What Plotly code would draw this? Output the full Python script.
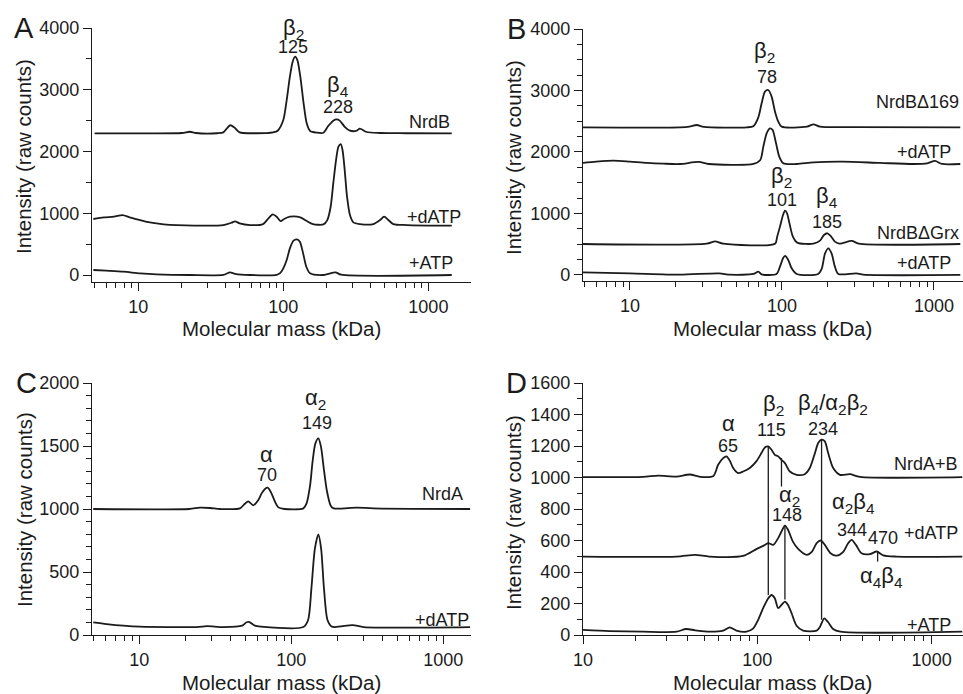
import math
import plotly.graph_objects as go

# ---------------- Data ----------------
# Panel A (NrdB)
A_NrdB_mass = [5, 10, 20, 22.7, 25, 35, 38.6, 41, 43, 46, 50, 65, 85, 91.5, 100, 105.5, 111, 116, 120.5, 125, 131, 138, 145, 153, 170, 189, 204, 221, 233, 245, 265, 288, 321, 337, 375, 465, 700, 1450]
A_NrdB_int = [2295, 2295, 2300, 2320, 2300, 2296, 2310, 2380, 2425, 2390, 2310, 2296, 2310, 2337, 2509, 2833, 3211, 3454, 3535, 3481, 3211, 2780, 2456, 2332, 2305, 2305, 2413, 2500, 2520, 2500, 2400, 2337, 2337, 2370, 2316, 2300, 2296, 2294]
A_dATP_mass = [4.9, 5.8, 6.8, 7.8, 8.7, 10.3, 12, 15, 18.3, 38.6, 44, 46.5, 50, 59, 72.5, 79, 84.5, 90, 95.5, 102, 111, 131, 145, 160, 189, 201, 212, 221, 231, 240, 249, 256, 265, 275, 288, 304, 337, 418, 465, 495, 530, 573, 710, 1450]
A_dATP_int = [907, 934, 944, 971, 934, 890, 852, 820, 809, 809, 847, 869, 836, 809, 825, 917, 982, 944, 874, 912, 944, 934, 874, 825, 820, 890, 1106, 1484, 1862, 2078, 2121, 2024, 1700, 1268, 971, 852, 825, 825, 890, 944, 890, 825, 809, 800]
A_ATP_mass = [4.9, 6, 7.9, 10.3, 13.4, 22.7, 38.6, 42.9, 46.5, 59, 90, 95, 100, 105.5, 111, 117.6, 124, 130, 137, 144, 153, 189, 229, 250, 1450]
A_ATP_int = [81, 70, 54, 27, 11, 0, 3, 43, 20, 0, 4, 30, 108, 243, 432, 556, 578, 540, 351, 135, 27, 0, 43, 5, 0]

# Panel B (NrdB deletion mutants)
B_D169_mass = [4.9, 21.3, 24.6, 27.5, 30.6, 58.6, 64.8, 69.9, 73.5, 77.3, 81.3, 85.5, 90, 94.6, 99.5, 146, 161, 178, 300, 1490]
B_D169_int = [2401, 2401, 2412, 2439, 2407, 2401, 2420, 2564, 2791, 2981, 3008, 2900, 2656, 2493, 2412, 2412, 2450, 2412, 2405, 2401]
B_D169dATP_mass = [4.9, 6.0, 7.8, 10, 12.9, 16.6, 21.3, 28.3, 33, 64.8, 72, 75.4, 79.3, 83.4, 86.8, 91.4, 96, 102, 125, 161, 250, 441, 731, 903, 1016, 1130, 1490]
B_D169dATP_int = [1822, 1843, 1859, 1843, 1822, 1810, 1805, 1838, 1805, 1805, 1870, 2087, 2304, 2385, 2358, 2141, 1924, 1816, 1805, 1832, 1843, 1822, 1805, 1816, 1854, 1805, 1805]
B_Grx_mass = [4.9, 32, 36.3, 41, 90, 93, 97, 101.6, 104.7, 108, 112, 118, 126, 161, 178, 189, 199, 209, 223, 239, 288, 320, 1490]
B_Grx_int = [504, 509, 547, 509, 509, 623, 786, 976, 1046, 1003, 840, 623, 526, 509, 558, 650, 678, 634, 542, 509, 553, 509, 504]
B_GrxdATP_mass = [4.9, 10, 21.3, 38.6, 45.5, 64.8, 69.9, 73.5, 92, 97, 101.6, 104.7, 110, 115.8, 125, 173, 183, 192, 202, 212, 223, 235, 308, 343, 1490]
B_GrxdATP_int = [43, 27, 5, 27, 5, 16, 54, 10, 16, 135, 271, 309, 244, 108, 16, 16, 108, 352, 434, 352, 135, 16, 27, 5, 0]

# Panel C (NrdA)
C_NrdA_mass = [4.98, 21.3, 25, 29.3, 34, 45.9, 49.5, 52.1, 56.2, 60.7, 63.8, 67.1, 69.9, 73.5, 78.1, 82.2, 90, 120, 126, 133, 138, 144, 150.7, 156.7, 162.5, 171, 181.6, 190, 269, 347, 1500]
C_NrdA_int = [1000, 1000, 1011, 1008, 1000, 1005, 1042, 1061, 1029, 1072, 1124, 1159, 1169, 1132, 1058, 1013, 1000, 1005, 1045, 1190, 1376, 1521, 1561, 1495, 1349, 1151, 1026, 1005, 1011, 1005, 1000]
C_dATP_mass = [4.98, 6.1, 7.85, 10.1, 23.9, 27.8, 35.7, 47.5, 50.8, 53, 57.5, 63, 120, 129, 135.6, 143, 150.7, 157, 164, 173, 185, 253, 300, 1500]
C_dATP_int = [101, 87, 74, 66, 63, 71, 63, 74, 101, 103, 74, 66, 63, 119, 370, 688, 799, 688, 370, 119, 66, 79, 63, 63]

# Panel D (NrdA + NrdB)
D_AB_mass = [10, 22.1, 27, 34.4, 41, 47, 56, 59.6, 63.7, 66.5, 69.5, 72.7, 77.5, 82.9, 90.5, 98.7, 105.6, 110.5, 115.6, 120.6, 126, 131.7, 137.6, 144, 153.8, 168, 187, 200, 214, 223.6, 233.7, 244, 255, 272.5, 298, 340, 388, 1500]
D_AB_int = [1002, 1004, 1012, 1006, 1019, 1004, 1010, 1081, 1123, 1134, 1107, 1060, 1028, 1038, 1060, 1102, 1155, 1191, 1197, 1176, 1144, 1134, 1112, 1091, 1038, 1017, 1021, 1060, 1155, 1219, 1240, 1229, 1155, 1060, 1017, 1021, 1004, 1002]
D_dATP_mass = [10, 34.4, 44, 53, 82.9, 98.7, 108, 115.6, 123.3, 131.7, 137.6, 144, 150, 160, 172, 192, 206, 219, 231, 244, 263, 285, 312, 332, 347.5, 368, 396, 443, 484, 528, 625, 1500]
D_dATP_int = [498, 498, 509, 498, 502, 545, 566, 583, 572, 615, 657, 695, 668, 593, 545, 509, 530, 583, 600, 572, 519, 504, 530, 583, 604, 572, 519, 513, 530, 506, 498, 498]
D_ATP_mass = [10, 14.2, 22.1, 34.4, 39, 44, 53, 63.7, 69.5, 75.9, 86.6, 94.5, 101, 108, 115.6, 120.6, 126, 131.7, 137.6, 144, 150, 157.3, 168, 183, 219, 229, 242, 255, 272, 300, 1500]
D_ATP_int = [32, 25, 21, 21, 38, 30, 21, 28, 49, 28, 21, 40, 95, 170, 233, 254, 233, 170, 191, 212, 191, 138, 59, 28, 28, 53, 106, 81, 38, 21, 21]
# Guide lines in D (mass, intensity start, intensity end)
D_line_mass = [115.6, 144, 233.7, 137.6, 490]
D_line_top = [1197, 695, 1240, 1123, 530]
D_line_bottom = [254, 226, 97, 943, 466]

# Tick labels
X_TICKS = [10, 100, 1000]
X_TICK_TEXT = ["10", "100", "1000"]

# ---------------- Figure ----------------
W, H = 963, 694
FONT = "Liberation Sans, Arial, sans-serif"
INK = "#1b1b1b"

fig = go.Figure()

def px_x(p):
    return p / W

def px_y(p):
    return 1 - p / H

panels = {
    1: dict(xd=[92, 471], yd=[282, 28], xr=[0.681, 3.294], yr=[-113, 4000], ydt=1000, ymin=500, ymax=4000),
    2: dict(xd=[583, 963], yd=[281, 29], xr=[0.691, 3.191], yr=[-98, 4000], ydt=1000, ymin=250, ymax=4000),
    3: dict(xd=[92, 471], yd=[635, 383], xr=[0.689, 3.182], yr=[0, 2000], ydt=500, ymin=100, ymax=2000),
    4: dict(xd=[583, 963], yd=[635, 383], xr=[1.0, 3.18], yr=[0, 1600], ydt=200, ymin=100, ymax=1600),
}

minor_x = []
for dec in [1, 10, 100, 1000]:
    for k in range(2, 10):
        minor_x.append(k * dec)

def add_line(i, mass, inten, smooth=True):
    sfx = "" if i == 1 else str(i)
    fig.add_trace(go.Scatter(
        x=mass, y=inten, mode="lines",
        line=dict(color=INK, width=1.8, shape="spline" if smooth else "linear", smoothing=0.75),
        xaxis="x" + sfx, yaxis="y" + sfx, showlegend=False, hoverinfo="skip"))

add_line(1, A_NrdB_mass, A_NrdB_int)
add_line(1, A_dATP_mass, A_dATP_int)
add_line(1, A_ATP_mass, A_ATP_int)
add_line(2, B_D169_mass, B_D169_int)
add_line(2, B_D169dATP_mass, B_D169dATP_int)
add_line(2, B_Grx_mass, B_Grx_int)
add_line(2, B_GrxdATP_mass, B_GrxdATP_int)
add_line(3, C_NrdA_mass, C_NrdA_int)
add_line(3, C_dATP_mass, C_dATP_int)
add_line(4, D_AB_mass, D_AB_int)
add_line(4, D_dATP_mass, D_dATP_int)
add_line(4, D_ATP_mass, D_ATP_int)
for m, t, b in zip(D_line_mass, D_line_top, D_line_bottom):
    fig.add_trace(go.Scatter(x=[m, m], y=[t, b], mode="lines",
                             line=dict(color=INK, width=1.3),
                             xaxis="x4", yaxis="y4", showlegend=False, hoverinfo="skip"))

layout = dict(template="none", width=W, height=H,
              margin=dict(l=0, r=0, t=0, b=0, pad=0, autoexpand=False),
              paper_bgcolor="white", plot_bgcolor="white",
              font=dict(family=FONT, size=18, color=INK))
for i, p in panels.items():
    sfx = "" if i == 1 else str(i)
    layout["xaxis" + sfx] = dict(
        type="log", domain=[px_x(p["xd"][0]), px_x(p["xd"][1])], range=p["xr"],
        anchor="y" + sfx, showline=True, linecolor=INK, linewidth=1.4, automargin=False,
        ticks="outside", ticklen=8, tickwidth=1.4, tickcolor=INK,
        tickvals=X_TICKS, ticktext=X_TICK_TEXT, showgrid=False, zeroline=False,
        tickfont=dict(size=18, family=FONT, color=INK),
        minor=dict(tickvals=minor_x, ticks="outside", ticklen=5, tickwidth=1.2, tickcolor=INK, showgrid=False))
    yvals = list(range(0, p["ymax"] + 1, p["ydt"]))
    layout["yaxis" + sfx] = dict(
        domain=[px_y(p["yd"][0]), px_y(p["yd"][1])], range=p["yr"],
        anchor="x" + sfx, showline=True, linecolor=INK, linewidth=1.4, automargin=False,
        ticks="outside", ticklen=8, tickwidth=1.4, tickcolor=INK,
        tickvals=yvals, showgrid=False, zeroline=False,
        tickfont=dict(size=18, family=FONT, color=INK),
        minor=dict(dtick=p["ymin"], tick0=0, ticks="outside", ticklen=5, tickwidth=1.2, tickcolor=INK, showgrid=False))
fig.update_layout(**layout)

ann = []
def paper_text(x, y, text, size=20, angle=0, xanchor="center"):
    ann.append(dict(x=px_x(x), y=px_y(y), xref="paper", yref="paper", text=text,
                    showarrow=False, textangle=angle, xanchor=xanchor, yanchor="middle",
                    font=dict(size=size, family=FONT, color=INK)))

# axis titles and panel letters
for (xt, yt) in [(281, 328), (772, 328), (281, 682), (772, 682)]:
    paper_text(xt, yt, "Molecular mass (kDa)", size=20.5)
for (xt, yt) in [(24, 157), (513, 158), (24, 510), (513, 513)]:
    paper_text(xt, yt, "Intensity (raw counts)", size=20.5, angle=-90)
for (xt, yt, t) in [(24, 28, "A"), (516, 29, "B"), (26, 383, "C"), (516, 383, "D")]:
    paper_text(xt, yt, t, size=29)

def dtext(i, logx, y, text, size=18, xanchor="center"):
    sfx = "" if i == 1 else str(i)
    ann.append(dict(x=logx, y=y, xref="x" + sfx, yref="y" + sfx, text=text,
                    showarrow=False, xanchor=xanchor, yanchor="middle",
                    font=dict(size=size, family=FONT, color=INK)))

G = 22
# Panel A
dtext(1, 2.069, 3990, "β<sub>2</sub>", G)
dtext(1, 2.069, 3696, "125")
dtext(1, 2.379, 3065, "β<sub>4</sub>", G)
dtext(1, 2.379, 2725, "228")
dtext(1, 3.161, 2482, "NrdB", xanchor="right")
dtext(1, 3.241, 944, "+dATP", xanchor="right")
dtext(1, 3.184, 189, "+ATP", xanchor="right")
# Panel B
dtext(2, 1.888, 3631, "β<sub>2</sub>", G)
dtext(2, 1.899, 3214, "78")
dtext(2, 3.175, 2818, "NrdBΔ169", xanchor="right")
dtext(2, 3.127, 2005, "+dATP", xanchor="right")
dtext(2, 1.998, 1590, "β<sub>2</sub>", G)
dtext(2, 1.998, 1220, "101")
dtext(2, 2.294, 1262, "β<sub>4</sub>", G)
dtext(2, 2.294, 867, "185")
dtext(2, 3.175, 678, "NrdBΔGrx", xanchor="right")
dtext(2, 3.127, 190, "+dATP", xanchor="right")
# Panel C
dtext(3, 2.160, 1875, "α<sub>2</sub>", G)
dtext(3, 2.167, 1680, "149")
dtext(3, 1.838, 1429, "α", G)
dtext(3, 1.838, 1270, "70")
dtext(3, 3.143, 1119, "NrdA", xanchor="right")
dtext(3, 3.180, 119, "+dATP", xanchor="right")
# Panel D
dtext(4, 1.832, 1346, "α", G)
dtext(4, 1.832, 1201, "65")
dtext(4, 2.091, 1458, "β<sub>2</sub>", G)
dtext(4, 2.081, 1299, "115")
dtext(4, 2.435, 1468, "β<sub>4</sub>/α<sub>2</sub>β<sub>2</sub>", G)
dtext(4, 2.378, 1308, "234")
dtext(4, 3.165, 1087, "NrdA+B", xanchor="right")
dtext(4, 2.187, 885, "α<sub>2</sub>", G)
dtext(4, 2.168, 763, "148")
dtext(4, 2.55, 840, "α<sub>2</sub>β<sub>4</sub>", G)
dtext(4, 2.541, 667, "344")
dtext(4, 2.722, 615, "470")
dtext(4, 3.165, 646, "+dATP", xanchor="right")
dtext(4, 2.713, 371, "α<sub>4</sub>β<sub>4</sub>", G)
dtext(4, 3.124, 64, "+ATP", xanchor="right")

fig.update_layout(annotations=ann)
fig.write_html("out.html", config={"displayModeBar": False},
               post_script="document.body.style.margin='0px';document.body.style.overflow='hidden';")
